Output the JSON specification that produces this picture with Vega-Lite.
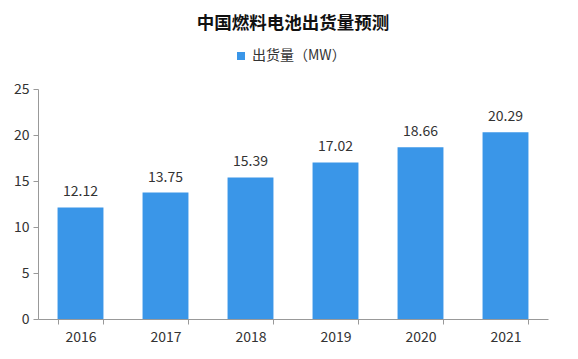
{
  "$schema": "https://vega.github.io/schema/vega-lite/v6.json",
  "width": 510,
  "height": 230,
  "autosize": {"type": "none"},
  "padding": {"left": 38, "top": 89, "right": 30, "bottom": 40},
  "background": "white",
  "title": {
    "text": "中国燃料电池出货量预测",
    "font": "Noto Sans CJK SC",
    "fontSize": 17.5,
    "fontWeight": "bold",
    "color": "#111111",
    "anchor": "middle",
    "offset": 17
  },
  "data": {
    "values": [
      {"year": "2016", "value": 12.12, "series": "出货量（MW）"},
      {"year": "2017", "value": 13.75, "series": "出货量（MW）"},
      {"year": "2018", "value": 15.39, "series": "出货量（MW）"},
      {"year": "2019", "value": 17.02, "series": "出货量（MW）"},
      {"year": "2020", "value": 18.66, "series": "出货量（MW）"},
      {"year": "2021", "value": 20.29, "series": "出货量（MW）"}
    ]
  },
  "encoding": {
    "x": {
      "field": "year",
      "type": "nominal",
      "scale": {"paddingInner": 0.46, "paddingOuter": 0.23},
      "axis": {
        "title": null,
        "labelAngle": 0,
        "labelFont": "Noto Sans CJK SC",
        "labelFontSize": 14,
        "labelColor": "#333333",
        "labelPadding": 6,
        "domainColor": "#999999",
        "tickColor": "#999999",
        "tickBand": "extent",
        "tickSize": 5
      }
    },
    "y": {
      "field": "value",
      "type": "quantitative",
      "scale": {"domain": [0, 25]},
      "axis": {
        "title": null,
        "values": [0, 5, 10, 15, 20, 25],
        "grid": false,
        "labelFont": "Noto Sans CJK SC",
        "labelFontSize": 14,
        "labelColor": "#333333",
        "labelPadding": 4,
        "domainColor": "#999999",
        "tickColor": "#999999",
        "tickSize": 5
      }
    }
  },
  "layer": [
    {
      "mark": {"type": "bar", "color": "#3a96e8"},
      "encoding": {
        "color": {
          "field": "series",
          "type": "nominal",
          "scale": {"range": ["#3a96e8"]},
          "legend": {
            "title": null,
            "orient": "none",
            "legendX": 196,
            "legendY": -40,
            "symbolType": "square",
            "symbolSize": 64,
            "labelFont": "Noto Sans CJK SC",
            "labelFontSize": 14,
            "labelColor": "#333333"
          }
        }
      }
    },
    {
      "mark": {
        "type": "text",
        "dy": -15,
        "font": "Noto Sans CJK SC",
        "fontSize": 14,
        "color": "#333333"
      },
      "encoding": {
        "text": {"field": "value", "type": "quantitative", "format": ".2f"}
      }
    }
  ],
  "config": {"view": {"stroke": null}}
}
